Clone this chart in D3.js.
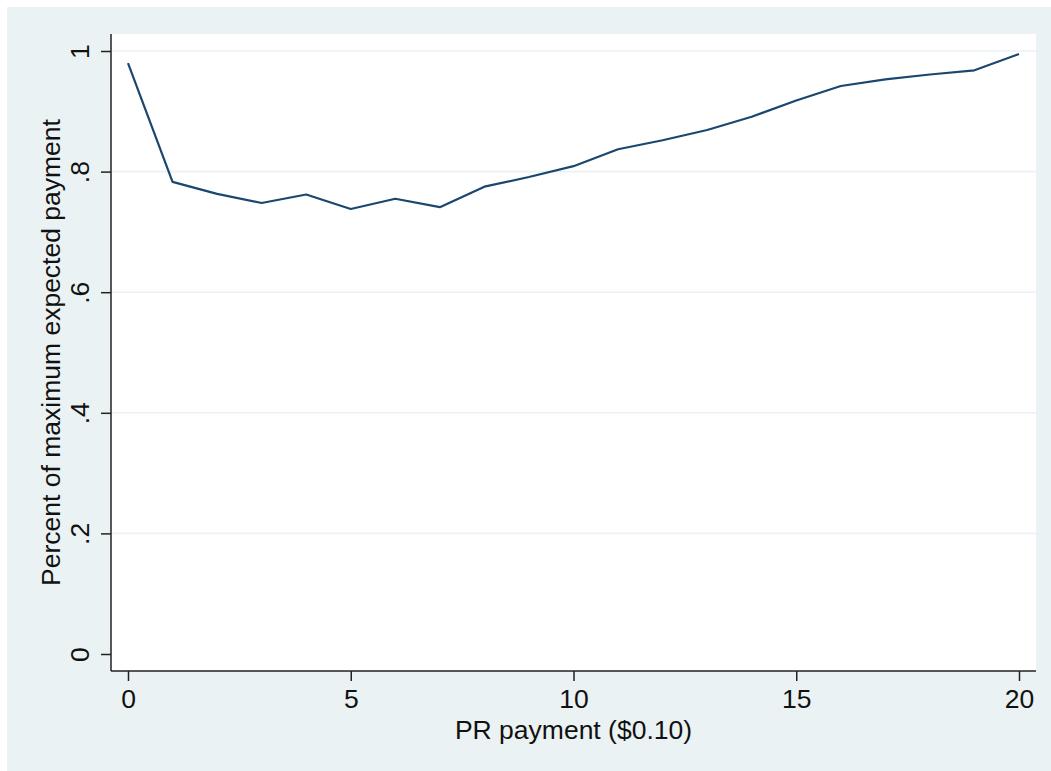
<!DOCTYPE html>
<html><head><meta charset="utf-8">
<script src="https://cdn.jsdelivr.net/npm/d3@7"></script>
<style>body{margin:0;background:#fff;} text{font-family:"Liberation Sans",Arial,Helvetica,sans-serif;}</style>
</head><body>
<svg id="c" width="1051" height="771"></svg>
<script>
const xValues = [0,1,2,3,4,5,6,7,8,9,10,11,12,13,14,15,16,17,18,19,20];
const yValues = [0.980,0.783,0.763,0.748,0.762,0.738,0.755,0.741,0.775,0.791,0.809,0.837,0.852,0.869,0.891,0.918,0.942,0.953,0.961,0.968,0.995];
const xTicks = [0,5,10,15,20];
const yTicks = [0,0.2,0.4,0.6,0.8,1];
const yTickLabels = ["0",".2",".4",".6",".8","1"];
const xTitle = "PR payment ($0.10)";
const yTitle = "Percent of maximum expected payment";

const svg = d3.select("#c");
const W = 1051, H = 771;
const L = 111, R = 1036, T = 34, B = 671;
svg.append("rect").attr("x",7).attr("y",7).attr("width",W-7).attr("height",H-7).attr("fill","#eaf2f3");
svg.append("rect").attr("x",L).attr("y",T).attr("width",R-L).attr("height",B-T).attr("fill","#fff");

const x = d3.scaleLinear().domain([0,20]).range([128,1019]);
const y = d3.scaleLinear().domain([0,1]).range([654,51]);

// grid
svg.append("g").selectAll("line").data(yTicks.filter(d=>d>0)).join("line")
  .attr("x1",L).attr("x2",R).attr("y1",d=>y(d)).attr("y2",d=>y(d))
  .attr("stroke","#eaf2f3").attr("stroke-width",1.6);

// line
svg.append("path").datum(xValues.map((v,i)=>[v,yValues[i]]))
  .attr("d", d3.line().x(d=>x(d[0])).y(d=>y(d[1])))
  .attr("fill","none").attr("stroke","#1a476f").attr("stroke-width",2.2).attr("stroke-linejoin","round");

// axes
const yAxis = d3.axisLeft(y).tickValues(yTicks).tickSize(10).tickPadding(6).tickFormat((d,i)=>yTickLabels[i]);
const gy = svg.append("g").attr("transform",`translate(${L},0)`).call(yAxis);
gy.select(".domain").remove();
gy.selectAll(".tick line").attr("stroke","#222").attr("stroke-width",1.5);
gy.selectAll(".tick text").attr("font-size",26.5).attr("fill","#111")
  .attr("text-anchor","middle").attr("x",null).attr("dy",null)
  .attr("transform","translate(-22,0) rotate(-90)");
svg.append("line").attr("x1",L).attr("x2",L).attr("y1",T).attr("y2",B).attr("stroke","#222").attr("stroke-width",1.5);

const xAxis = d3.axisBottom(x).tickValues(xTicks).tickSize(10).tickPadding(6).tickFormat(d3.format("d"));
const gx = svg.append("g").attr("transform",`translate(0,${B})`).call(xAxis);
gx.select(".domain").remove();
gx.selectAll(".tick line").attr("stroke","#222").attr("stroke-width",1.5);
gx.selectAll(".tick text").attr("font-size",26.5).attr("fill","#111").attr("dy",null).attr("y",37);
svg.append("line").attr("x1",L).attr("x2",R).attr("y1",B).attr("y2",B).attr("stroke","#222").attr("stroke-width",1.5);

svg.append("text").attr("x",(L+R)/2).attr("y",739).attr("text-anchor","middle").attr("font-size",26.5).attr("fill","#111").text(xTitle);
svg.append("text").attr("transform",`translate(60,${(T+B)/2}) rotate(-90)`).attr("text-anchor","middle").attr("font-size",26.5).attr("fill","#111").text(yTitle);
</script>
</body></html>
